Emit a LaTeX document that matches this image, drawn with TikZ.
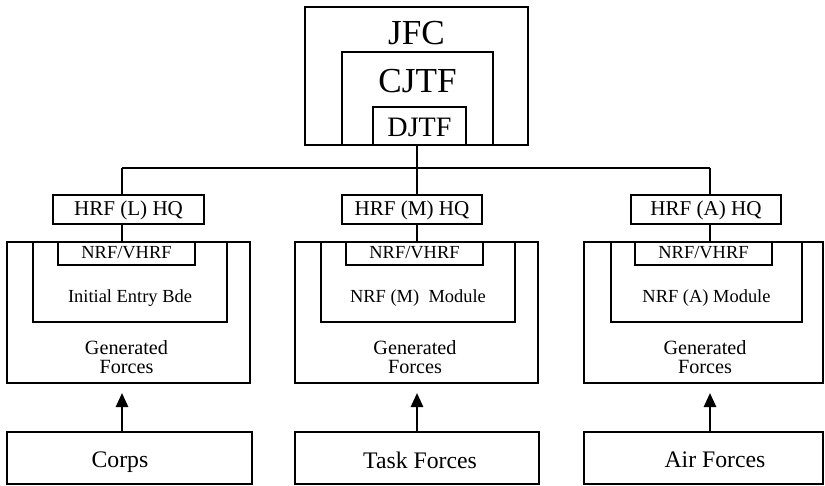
\documentclass[tikz,border=0pt]{standalone}
\usepackage{fontspec}
\setmainfont{Liberation Serif}
\usepackage{tikz}
\usetikzlibrary{arrows.meta}
\usetikzlibrary{positioning}
\tikzset{box/.style = {draw, line width = 1.2pt, inner sep = 0, minimum height = #1, text depth = 0.25ex}}
\tikzset{lbl/.style = {inner sep = 0, align = center}}
\tikzset{wire/.style = {line width = 1.2pt}}

\begin{document}
\begin{tikzpicture}[x=0.02cm, y=-0.02cm]
    \useasboundingbox (0, 0) rectangle (825, 486);

    % command nest
    \node [box=2.76cm, minimum width=4.46cm] (jfc) at (416.5, 76) {};
    \node [box=1.86cm, minimum width=3.02cm] (cjtf) at (417.5, 98.5) {};
    \node [box=0.76cm, minimum width=1.86cm] (djtf) at (419.5, 126) {};
    \node [lbl, font=\fontsize{20}{22}\selectfont] (tjfc) at (416.5, 33) {JFC};
    \node [lbl, font=\fontsize{20}{22}\selectfont] (tcjtf) at (417.5, 81) {CJTF};
    \node [lbl, font=\fontsize{16}{18}\selectfont] (tdjtf) at (419.5, 127) {DJTF};

    \coordinate (busL) at (122, 168);
    \coordinate (busM) at (417, 168);
    \coordinate (busA) at (710, 168);
    \draw [wire] (busM |- djtf.south) -- (busM);
    \draw [wire] (busL) -- (busA);

    % land
    \node [box=0.58cm, minimum width=3.02cm, font=\fontsize{12}{14}\selectfont] (hqL) at (128.5, 209.5) {HRF (L) HQ};
    \node [box=2.82cm, minimum width=4.86cm] (genL) at (128.5, 312.5) {};
    \node [box=1.6cm, minimum width=3.88cm] (inL) at (130, 282) {};
    \node [box=0.46cm, minimum width=2.74cm, font=\fontsize{10.5}{12}\selectfont] (nrfL) at (126.5, 253.5) {NRF/VHRF};
    \node [lbl, font=\fontsize{10.5}{12}\selectfont] (tinL) at (130, 298) {Initial Entry Bde};
    \node [lbl, font=\fontsize{11.5}{11}\selectfont] (tgenL) at (126.5, 357) {Generated\\Forces};
    \node [box=1.04cm, minimum width=4.9cm] (corps) at (129.5, 458) {};
    \node [lbl, font=\fontsize{13.5}{16}\selectfont] (tcorps) at (120, 462) {Corps};

    % maritime
    \node [box=0.58cm, minimum width=2.8cm, font=\fontsize{12}{14}\selectfont] (hqM) at (412, 209.5) {HRF (M) HQ};
    \node [box=2.82cm, minimum width=4.86cm] (genM) at (416.5, 312.5) {};
    \node [box=1.6cm, minimum width=3.88cm] (inM) at (418, 282) {};
    \node [box=0.46cm, minimum width=2.74cm, font=\fontsize{10.5}{12}\selectfont] (nrfM) at (414.5, 253.5) {NRF/VHRF};
    \node [lbl, font=\fontsize{10.5}{12}\selectfont] (tinM) at (418, 298) {NRF (M)\ \ Module};
    \node [lbl, font=\fontsize{11.5}{11}\selectfont] (tgenM) at (415, 357) {Generated\\Forces};
    \node [box=1.04cm, minimum width=4.88cm] (task) at (417, 458) {};
    \node [lbl, font=\fontsize{13.5}{16}\selectfont] (ttask) at (420, 460) {Task Forces};

    % air
    \node [box=0.58cm, minimum width=3cm, font=\fontsize{12}{14}\selectfont] (hqA) at (706, 209.5) {HRF (A) HQ};
    \node [box=2.82cm, minimum width=4.78cm] (genA) at (703.5, 312.5) {};
    \node [box=1.6cm, minimum width=3.82cm] (inA) at (706.5, 282) {};
    \node [box=0.46cm, minimum width=2.74cm, font=\fontsize{10.5}{12}\selectfont] (nrfA) at (703.5, 253.5) {NRF/VHRF};
    \node [lbl, font=\fontsize{10.5}{12}\selectfont] (tinA) at (706.5, 298) {NRF (A) Module};
    \node [lbl, font=\fontsize{11.5}{11}\selectfont] (tgenA) at (705, 357) {Generated\\Forces};
    \node [box=1.04cm, minimum width=4.78cm] (air) at (703.5, 458) {};
    \node [lbl, font=\fontsize{13.5}{16}\selectfont] (tair) at (715, 460) {Air Forces};

    \foreach \b/\h/\g/\s in {busL/hqL/genL/corps, busM/hqM/genM/task, busA/hqA/genA/air} {
      \draw [wire] (\b) -- (\b |- \h.north);
      \draw [wire] (\b |- \h.south) -- (\b |- \g.north);
      \draw [wire, -{Triangle[length=8pt, width=7pt]}] (\b |- \s.north) -- ([yshift=-0.18cm]\b |- \g.south);
    }
  \end{tikzpicture}
\end{document}
